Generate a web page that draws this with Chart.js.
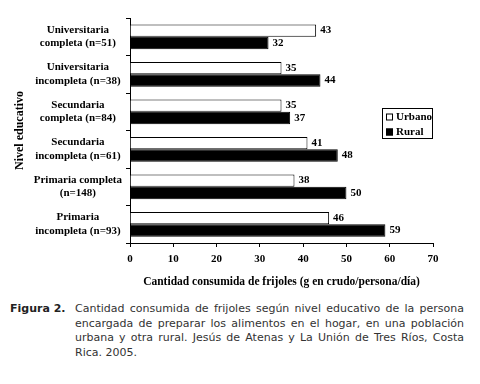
<!DOCTYPE html>
<html>
<head>
<meta charset="utf-8">
<script src="https://cdn.jsdelivr.net/npm/chart.js@4.4.1/dist/chart.umd.min.js"></script>
<style>
  html, body { margin: 0; padding: 0; background: #fff; }
  #wrap { position: relative; width: 480px; height: 296px; }
  .caption {
    display: flex;
    font-family: "DejaVu Sans", Verdana, sans-serif;
    font-size: 11px;
    line-height: 14.5px;
    color: #333;
    margin-top: 6px;
  }
  .caption b { width: 65px; padding-left: 10px; flex: none; color: #222; }
  .caption .txt { width: 389px; }
  .caption .txt span { display: block; white-space: nowrap; text-align: justify; text-align-last: justify; }
  .caption .txt span.last { text-align-last: left; }
</style>
</head>
<body>
<div id="wrap"><canvas id="myChart" width="480" height="296"></canvas></div>
<div class="caption">
  <b>Figura 2.</b>
  <div class="txt">
    <span>Cantidad consumida de frijoles según nivel educativo de la persona</span>
    <span>encargada de preparar los alimentos en el hogar, en una población</span>
    <span>urbana y otra rural. Jesús de Atenas y La Unión de Tres Ríos, Costa</span>
    <span class="last">Rica. 2005.</span>
  </div>
</div>
<script>
const categories = [
  ["Universitaria", "completa (n=51)"],
  ["Universitaria", "incompleta (n=38)"],
  ["Secundaria", "completa (n=84)"],
  ["Secundaria", "incompleta (n=61)"],
  ["Primaria completa", "(n=148)"],
  ["Primaria", "incompleta (n=93)"],
];
const urbano = [43, 35, 35, 41, 38, 46];
const rural = [32, 44, 37, 48, 50, 59];
const xMin = 0;
const xMax = 70;
const xStep = 10;

const serif = "'Liberation Serif', 'Times New Roman', serif";

// numbers at the end of each bar
const valueLabels = {
  id: "valueLabels",
  afterDatasetsDraw(chart) {
    const ctx = chart.ctx;
    ctx.save();
    ctx.font = "bold 11px " + serif;
    ctx.fillStyle = "#000";
    ctx.textBaseline = "middle";
    chart.data.datasets.forEach((ds, i) => {
      chart.getDatasetMeta(i).data.forEach((bar, j) => {
        ctx.fillText(ds.data[j], bar.x + 4, bar.y);
      });
    });
    ctx.restore();
  },
};

// boxed legend inside the plot
const boxLegend = {
  id: "boxLegend",
  afterDraw(chart) {
    const ctx = chart.ctx;
    const x = 382, y = 108, w = 50, h = 30;
    ctx.save();
    ctx.fillStyle = "#fff";
    ctx.fillRect(x, y, w, h);
    ctx.strokeStyle = "#000";
    ctx.lineWidth = 1;
    ctx.strokeRect(x + 0.5, y + 0.5, w, h);
    ctx.font = "bold 11px " + serif;
    ctx.textBaseline = "middle";
    chart.data.datasets.forEach((ds, i) => {
      const cy = y + 9 + i * 15;
      ctx.fillStyle = ds.backgroundColor;
      ctx.fillRect(x + 4, cy - 3.5, 7, 7);
      ctx.strokeStyle = "#000";
      ctx.strokeRect(x + 4.5, cy - 3, 6, 6);
      ctx.fillStyle = "#000";
      ctx.fillText(ds.label, x + 14, cy + 0.5);
    });
    ctx.restore();
  },
};

const ctx = document.getElementById("myChart").getContext("2d");
const myChart = new Chart(ctx, {
  type: "bar",
  data: {
    labels: categories,
    datasets: [
      {
        label: "Urbano",
        data: urbano,
        backgroundColor: "#fff",
        borderColor: "#000",
        borderWidth: 1,
      },
      {
        label: "Rural",
        data: rural,
        backgroundColor: "#000",
        borderColor: "#000",
        borderWidth: 1,
      },
    ],
  },
  options: {
    indexAxis: "y",
    responsive: false,
    animation: false,
    categoryPercentage: 0.66,
    barPercentage: 1,
    layout: { padding: { top: 18, right: 47, bottom: 0, left: 0 } },
    plugins: {
      legend: { display: false },
      tooltip: { enabled: false },
    },
    scales: {
      x: {
        min: xMin,
        max: xMax,
        afterFit: (scale) => { scale.height = 53; },
        ticks: {
          stepSize: xStep,
          color: "#000",
          padding: 6,
          font: { family: serif, size: 11, weight: "bold" },
        },
        grid: { drawOnChartArea: false, tickLength: 4, color: "#000" },
        border: { color: "#000", width: 1 },
        title: {
          display: true,
          text: "Cantidad consumida de frijoles (g en crudo/persona/día)",
          color: "#000",
          font: { family: serif, size: 11.5, weight: "bold" },
          padding: { top: 4, bottom: 7 },
        },
      },
      y: {
        afterFit: (scale) => { scale.width = 130; },
        ticks: {
          color: "#000",
          crossAlign: "center",
          padding: 4,
          font: { family: serif, size: 11, weight: "bold" },
        },
        grid: { drawOnChartArea: false, tickLength: 4, color: "#000", offset: true },
        border: { color: "#000", width: 1 },
        title: {
          display: true,
          text: "Nivel educativo",
          color: "#000",
          font: { family: serif, size: 12, weight: "bold" },
          padding: { top: 13, bottom: 0 },
        },
      },
    },
  },
  plugins: [valueLabels, boxLegend],
});
</script>
</body>
</html>
